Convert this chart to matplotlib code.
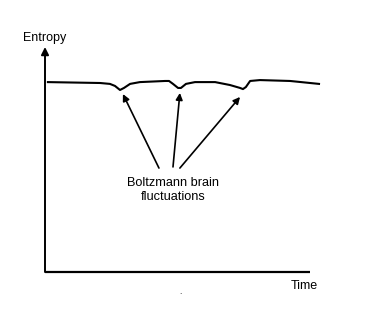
import matplotlib.pyplot as plt

plt.rcParams['font.family'] = ['Liberation Sans', 'DejaVu Sans']

# entropy curve (time, entropy) in arbitrary units
time = [1.1, 20.8, 24.5, 26.4, 28.3, 29.8, 32.1, 35.8, 45.3, 46.8, 48.3, 50.2,
        51.3, 53.2, 56.6, 64.2, 69.8, 73.6, 74.7, 75.8, 77.4, 81.1, 92.5, 103.4]
entropy = [84.4, 84.0, 83.6, 82.7, 80.9, 81.8, 83.6, 84.4, 84.9, 84.9, 83.6, 81.8,
           81.8, 83.6, 84.4, 84.4, 83.1, 81.8, 81.3, 82.2, 84.9, 85.3, 84.9, 83.6]

# arrows from label to each dip
arrow_tip_t = [29.4, 50.9, 73.6]
arrow_tip_e = [79.1, 79.6, 77.8]
arrow_tail_t = [43.0, 48.3, 50.9]
arrow_tail_e = [46.2, 46.7, 46.2]

fig = plt.figure(figsize=(3.75, 3.13), dpi=100)
ax = fig.add_axes([45 / 375, 41 / 313, 265 / 375, 225 / 313])
ax.set_xlim(0, 100)
ax.set_ylim(0, 100)
ax.axis('off')

# axes drawn as arrows / lines
ax.plot([0, 100], [0, 0], color='black', lw=1.6, clip_on=False, solid_capstyle='butt')
ax.annotate('', xy=(0, 100), xytext=(0, 0),
            arrowprops=dict(arrowstyle='-|>', color='black', lw=1.4,
                            mutation_scale=11, shrinkA=0, shrinkB=0),
            annotation_clip=False)

ax.plot(time, entropy, color='black', lw=1.5, clip_on=False, solid_joinstyle='round')

for i in range(3):
    ax.annotate('', xy=(arrow_tip_t[i], arrow_tip_e[i]),
                xytext=(arrow_tail_t[i], arrow_tail_e[i]),
                arrowprops=dict(arrowstyle='-|>', color='black', lw=1.2,
                                mutation_scale=10, shrinkA=0, shrinkB=0),
                annotation_clip=False)

fig.text(45 / 375, 1 - 38 / 313, 'Entropy', ha='center', va='center', fontsize=9)
fig.text(304 / 375, 1 - 286 / 313, 'Time', ha='center', va='center', fontsize=9)
fig.text(173 / 375, 1 - 190 / 313, 'Boltzmann brain\nfluctuations', ha='center',
         va='center', fontsize=9.2, linespacing=1.15)
fig.text(180 / 375, 1 - 292 / 313, '.', ha='center', va='center', fontsize=6)

fig.savefig('out.png', dpi=100)
